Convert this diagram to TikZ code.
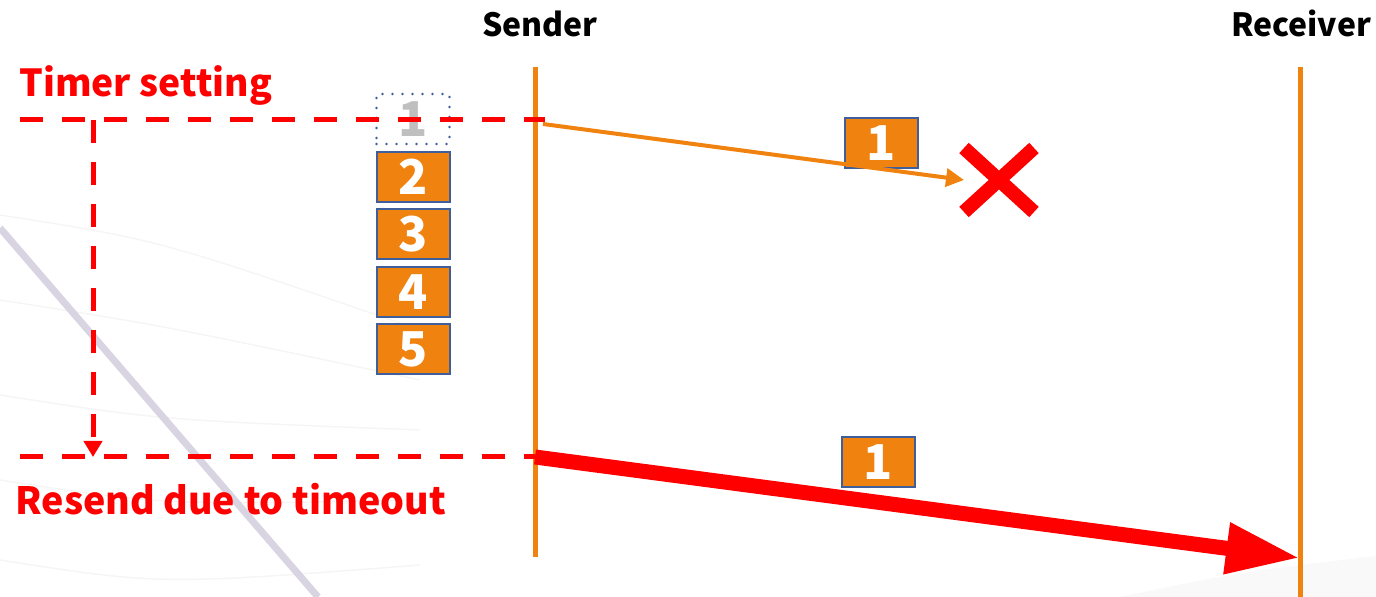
\documentclass[tikz,border=0pt]{standalone}
\usepackage{fontspec}
\setmainfont{Noto Sans CJK JP}
\usetikzlibrary{arrows.meta,shapes.misc}
\definecolor{wire}  {HTML}{F0820F}
\definecolor{frame} {HTML}{3F5F9B}
\definecolor{alarm} {HTML}{FF0000}
\definecolor{ghost} {HTML}{BFBFBF}
\definecolor{swoosh}{HTML}{D8D4E1}

\begin{document}
\begin{tikzpicture}[x=0.5pt,y=-0.5pt,
  actor/.style={font=\bfseries\fontsize{16}{19}\selectfont,anchor=base,inner sep=0pt},
  note/.style={text=alarm,anchor=base west,inner sep=0pt},
  pkt/.style={draw=frame,fill=wire,line width=1pt,minimum width=36.5pt,
    minimum height=25pt,inner sep=0pt,text=white,
    font=\bfseries\fontsize{24}{24}\selectfont},
  lostpkt/.style={pkt,fill=none,text=ghost,line width=1.4pt,line cap=round,
    dash pattern=on 0pt off 5pt},
  timer/.style={draw=alarm,line width=2.5pt,dash pattern=on 11.5pt off 9.5pt},
  life/.style={draw=wire,line width=2.5pt}]
  \useasboundingbox (0,0) rectangle (1376,597);

  % faint backdrop
  \fill[gray!5] (1120,597) .. controls (1240,572) .. (1376,556) -- (1376,597) -- cycle;
  \foreach \a/\b in {215/330,300/380,395/430,480/500,560/565}
    \draw[gray!8,line width=0.7pt] (0,\a) .. controls (160,\a+25) .. (420,\b);
  \draw[swoosh,line width=3.5pt] (0,228) -- (318,597);

  % roles and lifelines
  \node[actor] (snd) at (540,37) {Sender};
  \node[actor] (rcv) at (1301,37) {Receiver};
  \coordinate (sndtop) at (535,67);  \coordinate (sndbot) at (535,557);
  \coordinate (rcvtop) at (1300,67); \coordinate (rcvbot) at (1300,597);
  \draw[life] (sndtop) -- (sndbot);
  \draw[life] (rcvtop) -- (rcvbot);

  % send window
  \node[lostpkt] (q1) at (413,119) {1};
  \foreach \n/\y in {2/177,3/234,4/292,5/349}
    \node[pkt] (q\n) at (413,\y) {\n};

  % timer
  \coordinate (ton) at (20,120);  \coordinate (tonend) at (545,120);
  \coordinate (toff) at (20,457); \coordinate (toffend) at (535,457);
  \coordinate (tdown) at (93,120); \coordinate (tup) at (93,457);
  \draw[timer] (ton) -- (tonend);
  \draw[timer] (toff) -- (toffend);
  \draw[timer,-{Triangle[length=8pt,width=9pt]}] (tdown) -- (tup);
  \node[note,font=\bfseries\fontsize{18.6}{22}\selectfont] (tset) at (19,97) {Timer setting};
  \node[note,font=\bfseries\fontsize{18.8}{22}\selectfont] (tout) at (15,515) {Resend due to timeout};

  % first try, lost on the way
  \node[pkt] (p1) at (881,143) {1};
  \node[cross out,draw=alarm,line width=7pt,minimum width=28pt,minimum height=25pt] (loss) at (999,180) {};
  \coordinate (s1) at (543,124);
  \draw[wire,line width=2pt,-{Triangle[length=9pt,width=9pt]}] (s1) -- (loss.west);

  % retransmission
  \node[pkt] (r1) at (878,462) {1};
  \coordinate (s2) at (535,457);
  \coordinate (hit) at (1300,558);
  \draw[alarm,line width=7.5pt,-{Triangle[length=37pt,width=24pt]}] (s2) -- (hit);
\end{tikzpicture}
\end{document}
